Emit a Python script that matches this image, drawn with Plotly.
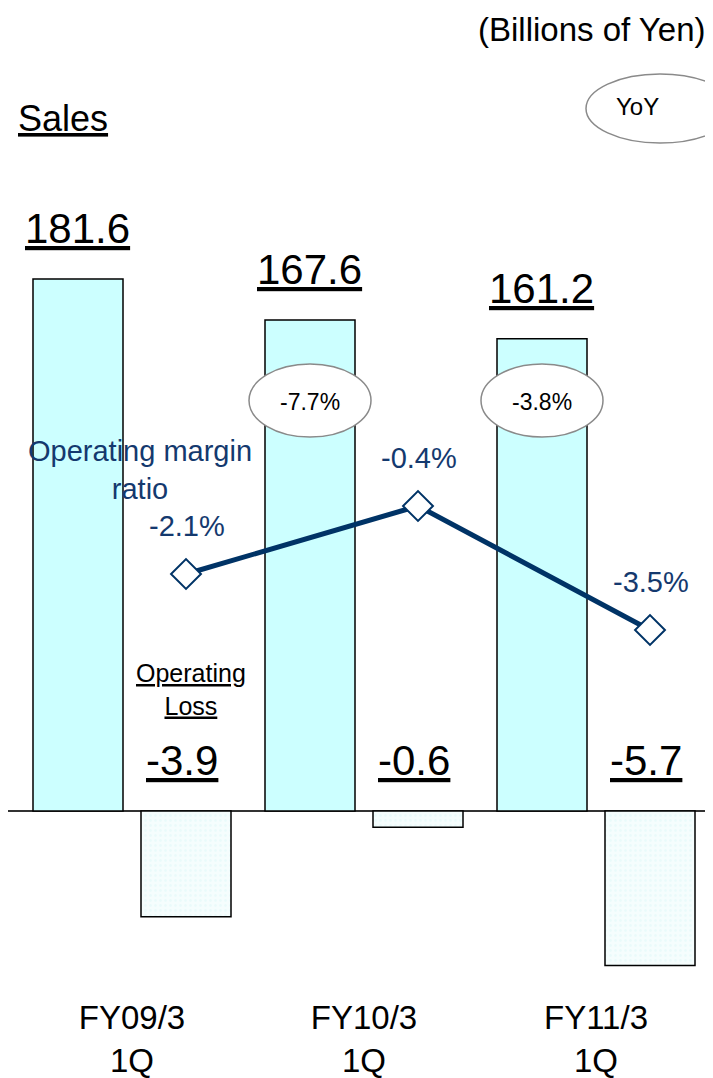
import plotly.graph_objects as go

# ---------------- data ----------------
categories = ["FY09/3<br>1Q", "FY10/3<br>1Q", "FY11/3<br>1Q"]
sales = [181.6, 167.6, 161.2]            # Billions of Yen
operating_loss = [-3.9, -0.6, -5.7]      # Billions of Yen
margin_ratio = [-2.1, -0.4, -3.5]        # %
yoy_labels = ["", "-7.7%", "-3.8%"]      # YoY change of sales

# ---------------- layout constants (page pixels) ----------------
OFF = 8                       # browser default body margin
PAGE_W, PAGE_H = 713, 1078
W, H = PAGE_W - OFF, PAGE_H - OFF
ML, MR, MT = 0, 0, 0
PB_PAGE = 995                 # plot bottom (page px)
PB = PB_PAGE - OFF
PW = W - ML - MR
PH = PB - MT
BASE = 811 - OFF              # zero line
SALES_PX = 2.93               # px per billion (sales)
LOSS_PX = 27.1                # px per billion (loss)
RATIO_ZERO = 490 - OFF        # px of 0 %
RATIO_PX = 40.0               # px per %

CAT_W = 232.0                 # px per category
X0 = -124.0 / CAT_W
XR = [X0, X0 + PW / CAT_W]
SALES_OFF, BAR_W = -99 / CAT_W, 90 / CAT_W
LOSS_OFF = 9 / CAT_W
LINE_SHIFT = 54 / CAT_W

def yr(px_per_unit, zero_px):
    return [-(PB - zero_px) / px_per_unit, (zero_px - MT) / px_per_unit]

def pxx(px):      # page x -> paper
    return (px - OFF - ML) / PW

def pxy(py):      # page y -> paper
    return (PB - (py - OFF)) / PH

FONT = "Arial, Liberation Sans, sans-serif"
NAVY = "#003366"
TXT_NAVY = "#14396e"

fig = go.Figure()

fig.add_trace(go.Bar(
    x=categories, y=sales, xaxis="x", yaxis="y",
    offset=SALES_OFF, width=BAR_W,
    marker=dict(color="#ccffff", line=dict(color="#000000", width=1.5)),
    hoverinfo="skip", showlegend=False,
))
fig.add_trace(go.Bar(
    x=categories, y=operating_loss, xaxis="x", yaxis="y2",
    offset=LOSS_OFF, width=BAR_W,
    marker=dict(color="#f2fcfc", line=dict(color="#000000", width=1.5),
                pattern=dict(shape=".", fgcolor="#e0f7f7", bgcolor="#f5fdfd",
                             size=5, solidity=0.25)),
    hoverinfo="skip", showlegend=False,
))
fig.add_trace(go.Scatter(
    x=categories, y=margin_ratio, xaxis="x2", yaxis="y3",
    mode="lines+markers",
    line=dict(color=NAVY, width=5),
    marker=dict(symbol="diamond", size=23, color="#ffffff",
                line=dict(color=NAVY, width=2)),
    hoverinfo="skip", showlegend=False,
))

annotations = []
# sales value labels
for c, v in zip(categories, sales):
    annotations.append(dict(x=c, y=v, xref="x", yref="y", text=f"<u>{v:.1f}</u>",
                            showarrow=False, xshift=-55, yshift=50, yanchor="middle",
                            font=dict(family=FONT, size=42, color="#000000")))
# loss value labels
for c, v in zip(categories, operating_loss):
    annotations.append(dict(x=c, y=0, xref="x", yref="y2", text=f"<u>{v:.1f}</u>",
                            showarrow=False, xshift=50, yshift=51, yanchor="middle",
                            font=dict(family=FONT, size=42, color="#000000")))
# margin ratio labels
for c, v in zip(categories, margin_ratio):
    annotations.append(dict(x=c, y=v, xref="x2", yref="y3", text=f"{v:.1f}%",
                            showarrow=False, xshift=1, yshift=48, yanchor="middle",
                            font=dict(family=FONT, size=29, color=TXT_NAVY)))

shapes = []
# YoY ellipses over sales bars
for i, lab in enumerate(yoy_labels):
    if not lab:
        continue
    cx = i + SALES_OFF + BAR_W / 2
    hw = 61 / CAT_W
    shapes.append(dict(type="circle", xref="x", yref="paper",
                       x0=cx - hw, x1=cx + hw, y0=pxy(437), y1=pxy(364),
                       fillcolor="#ffffff", line=dict(color="#8a8a8a", width=1.5),
                       layer="above"))
    annotations.append(dict(x=cx, y=pxy(402), xref="x", yref="paper", text=lab,
                            showarrow=False, yanchor="middle",
                            font=dict(family=FONT, size=23, color="#000000")))
# YoY legend ellipse
shapes.append(dict(type="circle", xref="paper", yref="paper",
                   x0=pxx(586), x1=pxx(734), y0=pxy(143), y1=pxy(74),
                   fillcolor="#ffffff", line=dict(color="#8a8a8a", width=1.5)))
annotations.append(dict(x=pxx(661), y=pxy(107), xref="paper", yref="paper", text="YoY",
                        showarrow=False, yanchor="middle",
                        font=dict(family=FONT, size=24, color="#000000")))

annotations += [
    dict(x=pxx(706), y=pxy(10), xref="paper", yref="paper", text="(Billions of Yen)",
         showarrow=False, xanchor="right", yanchor="top", borderpad=0,
         font=dict(family=FONT, size=33, color="#000000")),
    dict(x=pxx(16), y=pxy(118), xref="paper", yref="paper", text="<u>Sales</u>",
         showarrow=False, xanchor="left", yanchor="middle",
         font=dict(family=FONT, size=36, color="#000000")),
    dict(x=pxx(140), y=pxy(470), xref="paper", yref="paper",
         text="Operating margin<br>ratio",
         showarrow=False, xanchor="center", yanchor="middle",
         font=dict(family=FONT, size=29, color=TXT_NAVY)),
    dict(x=pxx(191), y=pxy(689), xref="paper", yref="paper",
         text="<u>Operating</u><br><u>Loss</u>",
         showarrow=False, xanchor="center", yanchor="middle",
         font=dict(family=FONT, size=25, color="#000000")),
]

hidden = dict(showgrid=False, zeroline=False, showticklabels=False, showline=False,
              fixedrange=True)

fig.update_layout(
    width=W, height=H,
    margin=dict(l=ML, r=MR, t=MT, b=H - PB, pad=0),
    paper_bgcolor="#ffffff", plot_bgcolor="#ffffff",
    barmode="overlay",
    showlegend=False,
    xaxis=dict(type="category", range=XR, showgrid=False, zeroline=False,
               showline=False, ticks="", tickfont=dict(family=FONT, size=33, color="#000000")),
    xaxis2=dict(type="category", overlaying="x", range=[XR[0] - LINE_SHIFT, XR[1] - LINE_SHIFT],
                **hidden),
    yaxis=dict(range=yr(SALES_PX, BASE), showgrid=False, showticklabels=False,
               showline=False, zeroline=True, zerolinecolor="#333333", zerolinewidth=2),
    yaxis2=dict(range=yr(LOSS_PX, BASE), overlaying="y", **hidden),
    yaxis3=dict(range=yr(RATIO_PX, RATIO_ZERO), overlaying="y", **hidden),
    annotations=annotations,
    shapes=shapes,
)

fig.write_html("out.html")
